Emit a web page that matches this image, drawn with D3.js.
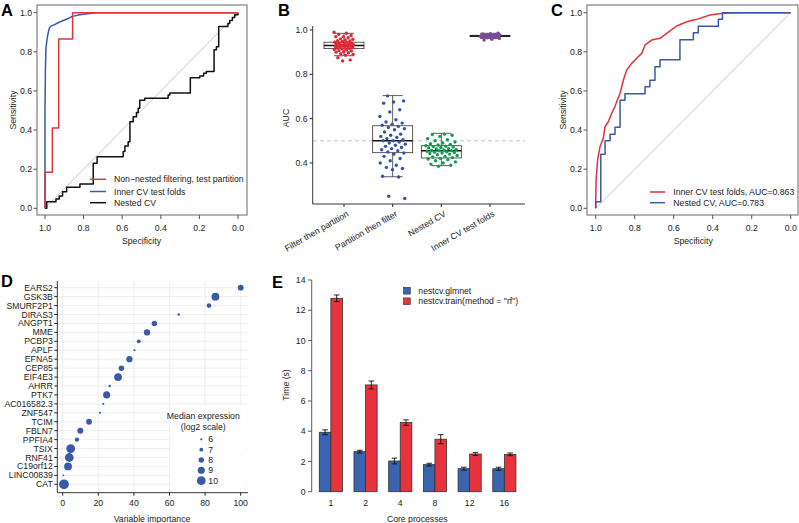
<!DOCTYPE html>
<html><head><meta charset="utf-8">
<script src="https://cdn.jsdelivr.net/npm/d3@7"></script>
<style>
body{margin:0;background:#fff}
svg{display:block}
text{font-family:Arial,"Liberation Sans",Helvetica,sans-serif;fill:#222}
</style>
</head><body>
<svg id="fig" width="799" height="523"></svg>
<script>
// ---------------- DATA ----------------
// Panel A: ROC curves (specificity, sensitivity)
const aRedSpec = [1, 1, 0.962, 0.929, 0.857, 0];
const aRedSens = [0, 0.184, 0.41, 0.865, 1, 1];
const aBlueSpec = [1, 1, 0.998, 0.995, 0.99, 0.985, 0.978, 0.97, 0.96, 0.948, 0.93, 0.905, 0.88, 0.862, 0.84, 0.82, 0.78, 0.733, 0];
const aBlueSens = [0, 0.5, 0.7, 0.82, 0.86, 0.89, 0.92, 0.93, 0.935, 0.94, 0.95, 0.96, 0.97, 0.98, 0.985, 0.99, 0.995, 1, 1];
const aBlackSpec = [1, 0.991, 0.943, 0.926, 0.909, 0.888, 0.819, 0.75, 0.73, 0.595, 0.586, 0.569, 0.56, 0.543, 0.526, 0.517, 0.509, 0.483, 0.362, 0.353, 0.247, 0.198, 0.178, 0.164, 0.124, 0.112, 0.1, 0.052, 0.043, 0.029, 0.017, 0];
const aBlackSens = [0, 0.034, 0.048, 0.063, 0.085, 0.107, 0.124, 0.23, 0.264, 0.29, 0.318, 0.34, 0.443, 0.468, 0.49, 0.511, 0.553, 0.562, 0.579, 0.59, 0.668, 0.676, 0.69, 0.70, 0.81, 0.826, 0.93, 0.945, 0.96, 0.975, 0.99, 1];
const aLegend = ["Non\u2212nested filtering, test partition", "Inner CV test folds", "Nested CV"];
const rocTicks = [1.0, 0.8, 0.6, 0.4, 0.2, 0.0];

// Panel B: AUC distributions
const bCategories = ["Filter then partition", "Partition then filter", "Nested CV", "Inner CV test folds"];
const bFilterThenPartition = [0.99,0.985,0.98,0.975,0.97,0.97,0.965,0.96,0.958,0.955,0.952,0.95,0.948,0.945,0.944,0.942,0.94,0.938,0.936,0.935,0.933,0.932,0.93,0.93,0.929,0.928,0.926,0.925,0.923,0.921,0.92,0.918,0.916,0.915,0.912,0.91,0.907,0.905,0.902,0.9,0.897,0.893,0.89,0.886,0.875,0.865,0.86];
const bPartitionThenFilter = [0.703,0.68,0.675,0.67,0.64,0.63,0.61,0.595,0.585,0.58,0.575,0.57,0.565,0.56,0.555,0.55,0.54,0.53,0.525,0.52,0.515,0.51,0.505,0.50,0.50,0.495,0.49,0.485,0.48,0.475,0.47,0.465,0.46,0.455,0.45,0.445,0.44,0.43,0.42,0.41,0.40,0.39,0.38,0.375,0.37,0.34,0.337,0.25,0.24];
const bNestedCV = [0.53,0.528,0.525,0.52,0.51,0.505,0.5,0.495,0.49,0.487,0.484,0.481,0.478,0.476,0.474,0.472,0.47,0.468,0.465,0.463,0.461,0.459,0.457,0.456,0.455,0.453,0.451,0.449,0.447,0.445,0.443,0.44,0.437,0.434,0.43,0.427,0.424,0.421,0.418,0.415,0.41,0.405,0.4,0.395,0.39,0.385];
const bInnerCV = [0.985,0.983,0.982,0.98,0.979,0.978,0.977,0.976,0.976,0.975,0.975,0.974,0.974,0.973,0.973,0.973,0.972,0.972,0.971,0.971,0.970,0.970,0.969,0.968,0.967,0.965,0.962,0.958,0.955];
const bQ1  = [0.916, 0.4465, 0.4226, 0.970];
const bMed = [0.930, 0.500, 0.4555, 0.973];
const bQ3  = [0.945, 0.568, 0.478, 0.976];
const bLo  = [0.884, 0.338, 0.388, 0.962];
const bHi  = [0.985, 0.704, 0.534, 0.985];
const bTicks = [0.4, 0.6, 0.8, 1.0];
const bChance = 0.5;

// Panel C
const cRedSpec = [1,1,0.998,0.99,0.978,0.961,0.952,0.935,0.918,0.901,0.889,0.875,0.858,0.841,0.815,0.79,0.764,0.747,0.713,0.67,0.636,0.585,0.533,0.482,0.414,0.345,0.243,0];
const cRedSens = [0,0.04,0.145,0.247,0.315,0.358,0.417,0.443,0.486,0.52,0.554,0.588,0.656,0.707,0.741,0.767,0.792,0.835,0.86,0.869,0.894,0.932,0.954,0.966,0.988,0.997,1,1];
const cBlueSpec = [1,1,0.974,0.952,0.926,0.901,0.875,0.85,0.747,0.722,0.696,0.67,0.568,0.499,0.474,0.371,0.35,0];
const cBlueSens = [0,0.034,0.276,0.345,0.379,0.414,0.552,0.586,0.621,0.655,0.724,0.759,0.862,0.897,0.931,0.966,1,1];
const cLegend = ["Inner CV test folds, AUC=0.863", "Nested CV, AUC=0.783"];

// Panel D
const dGenes = ["EARS2","GSK3B","SMURF2P1","DIRAS3","ANGPT1","MME","PCBP3","APLF","EFNA5","CEP85","EIF4E3","AHRR","PTK7","AC016582.3","ZNF547","TCIM","FBLN7","PPFIA4","TSIX","RNF41","C19orf12","LINC00839","CAT"];
const dImportance = [100,85.8,82.2,65.2,51.5,47.4,42.7,40.3,37.5,33,31.1,26.4,24.7,22.8,21,14.8,9.9,8,4.5,3.7,3,0.4,0.7];
const dExpression = [8.2,9.4,7.5,6.2,8,8.5,7,6,8.5,8,9.4,6.2,9,6,6,8.2,8.3,7.3,10,10,9.4,5.8,10.6];
const dTicks = [0,20,40,60,80,100];
const dLegendValues = [6,7,8,9,10];

// Panel E
const eCores = ["1","2","4","8","12","16"];
const eGlmnet = [3.93,2.65,2.03,1.79,1.52,1.52];
const eGlmnetErr = [0.16,0.09,0.19,0.09,0.10,0.10];
const eRf = [12.79,7.06,4.57,3.47,2.49,2.47];
const eRfErr = [0.22,0.26,0.18,0.30,0.09,0.09];
const eTicks = [0,2,4,6,8,10,12,14];
const eLegend = ["nestcv.glmnet", "nestcv.train(method = \"rf\")"];

// ---------------- STYLE ----------------
const FS = 8.7;
const RED = "#e1333e", BLUE = "#3a5aa8", BLACK = "#111";
const svg = d3.select("#fig");
const fmt1 = d3.format(".1f");

// panel letters
[["A",1,15.5],["B",278,15.5],["C",551,15.5],["D",1,287],["E",272,288]].forEach(([t,x,y]) =>
  svg.append("text").attr("x",x).attr("y",y).attr("font-size",16.5).attr("font-weight","bold").style("fill","#000").text(t));

// ---------------- ROC panels ----------------
function rocPanel(cfg) {
  const g = svg.append("g");
  const x = d3.scaleLinear().domain([1,0]).range(cfg.xr);
  const y = d3.scaleLinear().domain([0,1]).range([208.3,12.7]);
  // diagonal
  g.append("line").attr("x1",x(1)).attr("y1",y(0)).attr("x2",x(0)).attr("y2",y(1))
    .attr("stroke","#c4c4c4").attr("stroke-width",0.9);
  // curves
  cfg.curves.forEach(c => {
    const pts = c.spec.map((s,i)=>[s,c.sens[i]]);
    const line = d3.line().x(d=>x(d[0])).y(d=>y(d[1])).curve(c.step ? d3.curveStepAfter : d3.curveLinear);
    g.append("path").attr("d",line(pts)).attr("fill","none").attr("stroke",c.color).attr("stroke-width",1.5).attr("stroke-linejoin","round");
  });
  // box
  g.append("rect").attr("x",cfg.box[0]).attr("y",5).attr("width",cfg.box[1]-cfg.box[0]).attr("height",210)
    .attr("fill","none").attr("stroke","#8a8a8a").attr("stroke-width",1.3);
  // x ticks
  rocTicks.forEach(t => {
    g.append("line").attr("x1",x(t)).attr("x2",x(t)).attr("y1",215).attr("y2",219).attr("stroke","#555");
    g.append("text").attr("x",x(t)).attr("y",231).attr("text-anchor","middle").attr("font-size",FS).text(fmt1(t));
  });
  // y ticks
  rocTicks.forEach(t => {
    g.append("line").attr("x1",cfg.box[0]).attr("x2",cfg.box[0]-3.5).attr("y1",y(t)).attr("y2",y(t)).attr("stroke","#555");
    g.append("text").attr("x",cfg.box[0]-5).attr("y",y(t)).attr("dy","0.35em").attr("text-anchor","end").attr("font-size",FS).text(fmt1(t));
  });
  g.append("text").attr("transform",`translate(${cfg.ylabX},110) rotate(-90)`).attr("text-anchor","middle").attr("font-size",FS).text("Sensitivity");
  g.append("text").attr("x",(cfg.xr[0]+cfg.xr[1])/2).attr("y",244).attr("text-anchor","middle").attr("font-size",FS).text("Specificity");
  // legend
  cfg.legend.forEach((lab,i) => {
    const ly = cfg.legY[i];
    g.append("line").attr("x1",cfg.legX[0]).attr("x2",cfg.legX[1]).attr("y1",ly).attr("y2",ly).attr("stroke",cfg.curves[cfg.legOrder[i]].color).attr("stroke-width",1.5);
    g.append("text").attr("x",cfg.legX[2]).attr("y",ly).attr("dy","0.35em").attr("font-size",FS).text(lab);
  });
}

rocPanel({
  xr:[45,238], box:[37,247], ylabX:16,
  curves:[
    {spec:aBlackSpec, sens:aBlackSens, color:BLACK, step:true},
    {spec:aBlueSpec, sens:aBlueSens, color:BLUE, step:false},
    {spec:aRedSpec, sens:aRedSens, color:RED, step:true}
  ],
  legend:aLegend, legOrder:[2,1,0], legX:[90,106,114], legY:[179.3,191.5,202.7]
});

rocPanel({
  xr:[595.7,790.7], box:[587,798], ylabX:566,
  curves:[
    {spec:cRedSpec, sens:cRedSens, color:RED, step:false},
    {spec:cBlueSpec, sens:cBlueSens, color:BLUE, step:true}
  ],
  legend:cLegend, legOrder:[0,1], legX:[650,665,673.3], legY:[192,202.7]
});

// ---------------- Panel B ----------------
(function(){
  const g = svg.append("g");
  const y = d3.scaleLinear().domain([0.215,1.018]).range([204,26]);
  const x = d3.scalePoint().domain(bCategories).range([344,490]);
  const groups = [bFilterThenPartition,bPartitionThenFilter,bNestedCV,bInnerCV];
  const colors = ["#dc2a36","#3354a4","#139c50","#7b4a9c"];
  const jw = [10,13,16,10];
  const bw = 40;
  // chance line
  g.append("line").attr("x1",313).attr("x2",525).attr("y1",y(bChance)).attr("y2",y(bChance))
    .attr("stroke","#c2c8c8").attr("stroke-width",1).attr("stroke-dasharray","4,3");
  // boxes
  bCategories.forEach((c,i) => {
    const cx = x(c);
    g.append("line").attr("x1",cx).attr("x2",cx).attr("y1",y(bQ3[i])).attr("y2",y(bHi[i])).attr("stroke","#333").attr("stroke-width",0.8);
    g.append("line").attr("x1",cx).attr("x2",cx).attr("y1",y(bQ1[i])).attr("y2",y(bLo[i])).attr("stroke","#333").attr("stroke-width",0.8);
    [bHi[i],bLo[i]].forEach(v => g.append("line").attr("x1",cx-bw/4).attr("x2",cx+bw/4).attr("y1",y(v)).attr("y2",y(v)).attr("stroke","#333").attr("stroke-width",0.8));
    g.append("rect").attr("x",cx-bw/2).attr("y",y(bQ3[i])).attr("width",bw).attr("height",y(bQ1[i])-y(bQ3[i]))
      .attr("fill","#fff").attr("stroke","#333").attr("stroke-width",0.8);
    g.append("line").attr("x1",cx-bw/2).attr("x2",cx+bw/2).attr("y1",y(bMed[i])).attr("y2",y(bMed[i])).attr("stroke","#111").attr("stroke-width",1.5);
  });
  // points with deterministic jitter
  groups.forEach((vals,i) => {
    const cx = x(bCategories[i]);
    g.selectAll(null).data(vals).enter().append("circle")
      .attr("cx",(d,k)=>cx + (((k*0.6180339887 + i*0.3) % 1) - 0.5)*2*jw[i])
      .attr("cy",d=>y(d)).attr("r",1.7).attr("fill",colors[i]);
  });
  // axes
  g.append("line").attr("x1",312.7).attr("x2",312.7).attr("y1",26).attr("y2",204).attr("stroke","#222").attr("stroke-width",0.9);
  g.append("line").attr("x1",312.7).attr("x2",525).attr("y1",204).attr("y2",204).attr("stroke","#222").attr("stroke-width",0.9);
  bTicks.forEach(t => {
    g.append("line").attr("x1",309.7).attr("x2",312.7).attr("y1",y(t)).attr("y2",y(t)).attr("stroke","#222");
    g.append("text").attr("x",307.5).attr("y",y(t)).attr("dy","0.35em").attr("text-anchor","end").attr("font-size",FS).text(fmt1(t));
  });
  bCategories.forEach(c => {
    g.append("line").attr("x1",x(c)).attr("x2",x(c)).attr("y1",204).attr("y2",207).attr("stroke","#222");
    g.append("text").attr("transform",`translate(${x(c)+2},210) rotate(-30)`).attr("dy","0.75em").attr("text-anchor","end").attr("font-size",FS).text(c);
  });
  g.append("text").attr("transform",`translate(289,118) rotate(-90)`).attr("text-anchor","middle").attr("font-size",FS).text("AUC");
})();

// ---------------- Panel D ----------------
(function(){
  const g = svg.append("g");
  const x = d3.scaleLinear().domain([0,100]).range([62.7,240.7]);
  const y = d3.scalePoint().domain(dGenes).range([287.7,484.3]);
  const r = d3.scaleLinear().domain([6,10]).range([1.1,4.4]).clamp(false);
  const L = 57.3, R = 248, T = 281, B = 492.7;
  dTicks.forEach(t => g.append("line").attr("x1",x(t)).attr("x2",x(t)).attr("y1",T).attr("y2",B).attr("stroke","#ebebeb").attr("stroke-width",0.8));
  dGenes.forEach(gn => g.append("line").attr("x1",L).attr("x2",R).attr("y1",y(gn)).attr("y2",y(gn)).attr("stroke","#ebebeb").attr("stroke-width",0.8));
  // legend background
  g.append("rect").attr("x",170).attr("y",406).attr("width",77).attr("height",82).attr("fill","#fff");
  // points
  g.selectAll(null).data(dGenes).enter().append("circle")
    .attr("cx",(d,i)=>x(dImportance[i])).attr("cy",d=>y(d)).attr("r",(d,i)=>Math.max(0.9,r(dExpression[i]))).attr("fill",BLUE);
  // axes
  g.append("line").attr("x1",L).attr("x2",L).attr("y1",T).attr("y2",B).attr("stroke","#222").attr("stroke-width",0.9);
  g.append("line").attr("x1",L).attr("x2",R).attr("y1",B).attr("y2",B).attr("stroke","#222").attr("stroke-width",0.9);
  dGenes.forEach(gn => {
    g.append("line").attr("x1",L-3).attr("x2",L).attr("y1",y(gn)).attr("y2",y(gn)).attr("stroke","#222");
    g.append("text").attr("x",L-4.5).attr("y",y(gn)).attr("dy","0.35em").attr("text-anchor","end").attr("font-size",FS).text(gn);
  });
  dTicks.forEach(t => {
    g.append("line").attr("x1",x(t)).attr("x2",x(t)).attr("y1",B).attr("y2",B+3).attr("stroke","#222");
    g.append("text").attr("x",x(t)).attr("y",505.5).attr("text-anchor","middle").attr("font-size",FS).text(t);
  });
  g.append("text").attr("x",152).attr("y",521.5).attr("text-anchor","middle").attr("font-size",FS).text("Variable importance");
  // legend
  g.append("text").attr("x",203.3).attr("y",418.7).attr("text-anchor","middle").attr("font-size",FS).text("Median expression");
  g.append("text").attr("x",203.3).attr("y",429.7).attr("text-anchor","middle").attr("font-size",FS).text("(log2 scale)");
  dLegendValues.forEach((v,i) => {
    const ly = 439.3 + i*10.35;
    g.append("circle").attr("cx",201.3).attr("cy",ly).attr("r",r(v)).attr("fill",BLUE);
    g.append("text").attr("x",208.3).attr("y",ly).attr("dy","0.35em").attr("font-size",FS).text(v);
  });
})();

// ---------------- Panel E ----------------
(function(){
  const g = svg.append("g");
  const y = d3.scaleLinear().domain([0,14]).range([491.7,280]);
  const x = d3.scaleBand().domain(eCores).range([313.5,521.7]).paddingInner(1/3).paddingOuter(1/6);
  const xs = d3.scaleBand().domain(["glmnet","rf"]).range([0,x.bandwidth()]);
  const series = [{k:"glmnet",v:eGlmnet,e:eGlmnetErr,c:"#3a63b0"},{k:"rf",v:eRf,e:eRfErr,c:"#e8333d"}];
  series.forEach(s => {
    g.selectAll(null).data(eCores).enter().append("rect")
      .attr("x",d=>x(d)+xs(s.k)).attr("width",xs.bandwidth())
      .attr("y",(d,i)=>y(s.v[i])).attr("height",(d,i)=>y(0)-y(s.v[i]))
      .attr("fill",s.c).attr("stroke","#333").attr("stroke-width",0.8);
  });
  series.forEach(s => {
    eCores.forEach((d,i) => {
      const cx = x(d)+xs(s.k)+xs.bandwidth()/2;
      const lo = y(s.v[i]-s.e[i]), hi = y(s.v[i]+s.e[i]);
      g.append("line").attr("x1",cx).attr("x2",cx).attr("y1",lo).attr("y2",hi).attr("stroke","#111").attr("stroke-width",0.9);
      [lo,hi].forEach(yy => g.append("line").attr("x1",cx-2.8).attr("x2",cx+2.8).attr("y1",yy).attr("y2",yy).attr("stroke","#111").attr("stroke-width",0.9));
    });
  });
  // y axis
  g.append("line").attr("x1",311.7).attr("x2",311.7).attr("y1",y(0)).attr("y2",y(14)).attr("stroke","#333").attr("stroke-width",0.8);
  eTicks.forEach(t => {
    g.append("line").attr("x1",308).attr("x2",311.7).attr("y1",y(t)).attr("y2",y(t)).attr("stroke","#333").attr("stroke-width",0.8);
    g.append("text").attr("x",305.5).attr("y",y(t)).attr("dy","0.35em").attr("text-anchor","end").attr("font-size",FS).text(t);
  });
  eCores.forEach(c => g.append("text").attr("x",x(c)+x.bandwidth()/2).attr("y",505.5).attr("text-anchor","middle").attr("font-size",FS).text(c));
  g.append("text").attr("x",417.3).attr("y",521.5).attr("text-anchor","middle").attr("font-size",FS).text("Core processes");
  g.append("text").attr("transform","translate(289,385) rotate(-90)").attr("text-anchor","middle").attr("font-size",FS).text("Time (s)");
  // legend
  eLegend.forEach((lab,i) => {
    const ly = 290.7 + i*10.6;
    g.append("rect").attr("x",403.5).attr("y",ly-3.4).attr("width",6.8).attr("height",6.8).attr("fill",series[i].c).attr("stroke","#333").attr("stroke-width",0.6);
    g.append("text").attr("x",418.3).attr("y",ly).attr("dy","0.35em").attr("font-size",FS).text(lab);
  });
})();
</script>
</body></html>
